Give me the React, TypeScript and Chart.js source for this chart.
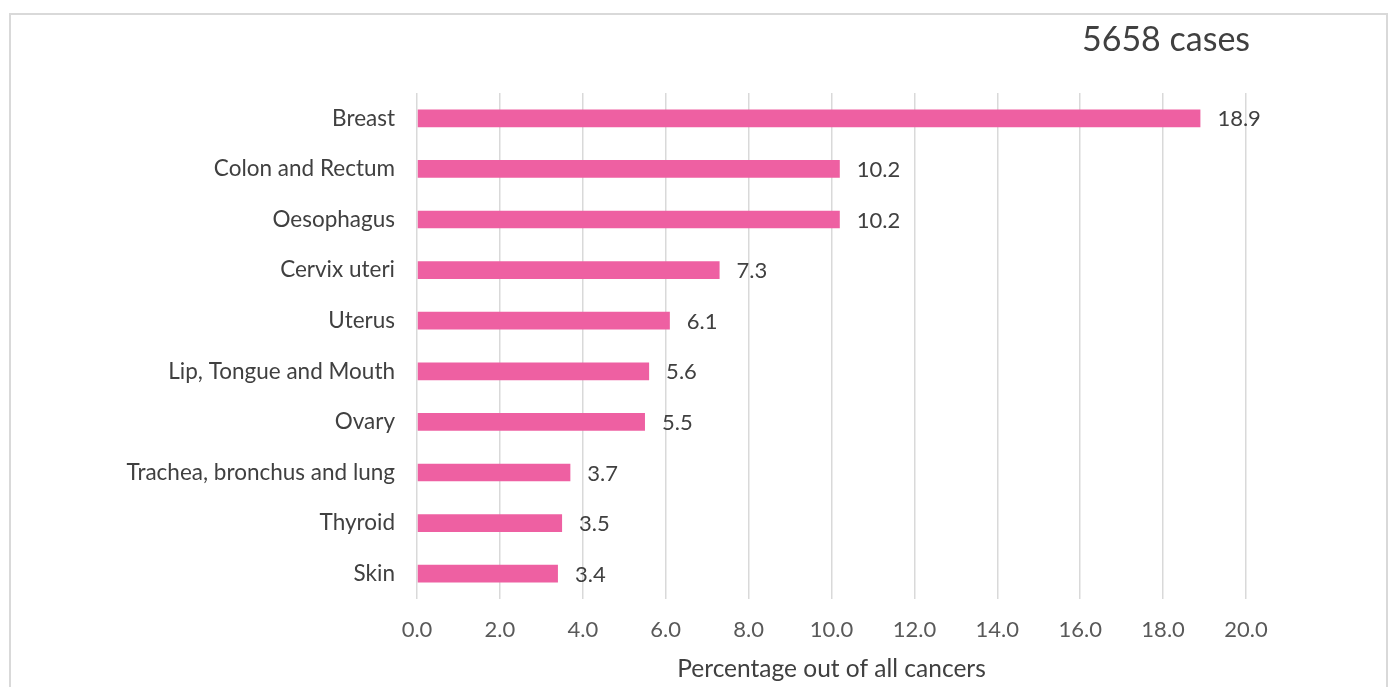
import React, { useEffect, useRef } from "react";
import { Chart, registerables } from "chart.js";

Chart.register(...registerables);

const categories = [
  "Breast",
  "Colon and Rectum",
  "Oesophagus",
  "Cervix uteri",
  "Uterus",
  "Lip, Tongue and Mouth",
  "Ovary",
  "Trachea, bronchus and lung",
  "Thyroid",
  "Skin",
];
const percentages = [18.9, 10.2, 10.2, 7.3, 6.1, 5.6, 5.5, 3.7, 3.5, 3.4];
const chartTitle = "5658 cases";
const xAxisTitle = "Percentage out of all cancers";
const xMin = 0;
const xMax = 20;
const xStep = 2;

const FONT = "Lato, 'Open Sans', sans-serif";

export default function App() {
  const ref = useRef<HTMLCanvasElement | null>(null);

  useEffect(() => {
    if (!ref.current) return;

    const framePlugin = {
      id: "frame",
      beforeDraw(chart: any) {
        const { ctx } = chart;
        ctx.save();
        ctx.fillStyle = "#ffffff";
        ctx.fillRect(0, 0, chart.width, chart.height);
        ctx.strokeStyle = "#d9d9d9";
        ctx.lineWidth = 2;
        ctx.strokeRect(10, 14, 1377, 700);
        ctx.restore();
      },
    };

    const titlePlugin = {
      id: "caseTitle",
      afterDraw(chart: any) {
        const { ctx } = chart;
        ctx.save();
        ctx.font = `34px ${FONT}`;
        ctx.fillStyle = "#404040";
        ctx.textAlign = "center";
        ctx.textBaseline = "middle";
        ctx.fillText(chartTitle, 1166, 40);
        ctx.restore();
      },
    };

    const valueLabels = {
      id: "valueLabels",
      afterDatasetsDraw(chart: any) {
        const { ctx } = chart;
        const meta = chart.getDatasetMeta(0);
        ctx.save();
        ctx.font = `22px ${FONT}`;
        ctx.fillStyle = "#404040";
        ctx.textAlign = "left";
        ctx.textBaseline = "middle";
        meta.data.forEach((el: any, i: number) => {
          ctx.fillText(percentages[i].toFixed(1), el.x + 17, el.y + 1);
        });
        ctx.restore();
      },
    };

    const chart = new Chart(ref.current, {
      type: "bar",
      data: {
        labels: categories,
        datasets: [
          {
            data: percentages,
            backgroundColor: "#EE60A2",
            borderWidth: 0,
            barPercentage: 0.35,
            categoryPercentage: 1,
          },
        ],
      },
      options: {
        indexAxis: "y",
        animation: false,
        responsive: false,
        maintainAspectRatio: false,
        layout: { padding: { top: 93, right: 146, left: 0, bottom: 0 } },
        plugins: {
          legend: { display: false },
          tooltip: { enabled: false },
          title: { display: false },
        },
        scales: {
          x: {
            min: xMin,
            max: xMax,
            afterFit(scale: any) {
              scale.height = 88;
            },
            ticks: {
              stepSize: xStep,
              callback: (v: any) => Number(v).toFixed(1),
              color: "#595959",
              font: { family: FONT, size: 22 },
              padding: 18,
            },
            grid: { color: "#d9d9d9", lineWidth: 1.5, drawTicks: false },
            border: { display: false },
            title: {
              display: true,
              text: xAxisTitle,
              color: "#404040",
              font: { family: FONT, size: 24.5 },
              padding: { top: 0, bottom: 3 },
            },
          },
          y: {
            afterFit(scale: any) {
              scale.width = 417;
            },
            ticks: {
              color: "#404040",
              font: { family: FONT, size: 22.5 },
              padding: 22,
            },
            grid: { display: false, drawTicks: false },
            border: { display: false },
          },
        },
      },
      plugins: [framePlugin, valueLabels, titlePlugin],
    });

    return () => chart.destroy();
  }, []);

  return (
    <div style={{ position: "fixed", left: 0, top: 0, width: 1392, height: 687 }}>
      <canvas ref={ref} width={1392} height={687} style={{ display: "block" }} />
    </div>
  );
}
